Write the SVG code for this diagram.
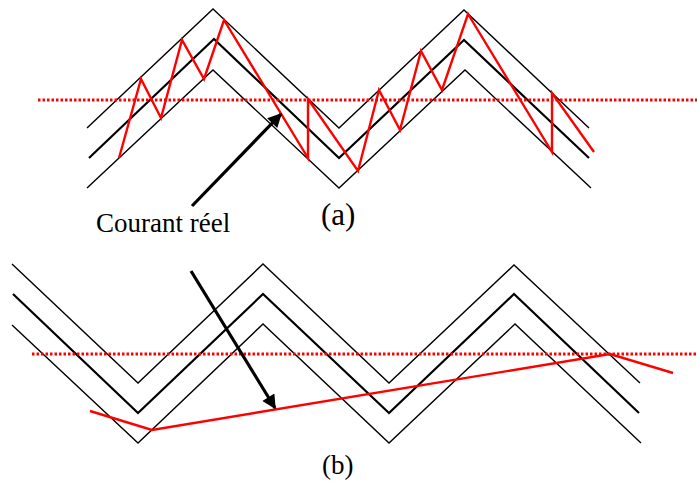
<svg xmlns="http://www.w3.org/2000/svg" width="697" height="482" viewBox="0 0 697 482">
<defs>
<style>
.thin{fill:none;stroke:#000;stroke-width:1.4;stroke-linejoin:miter}
.thick{fill:none;stroke:#000;stroke-width:2.2;stroke-linejoin:miter}
.red{fill:none;stroke:#ff0000;stroke-width:2.4;stroke-linejoin:miter}
.dot{fill:none;stroke:#ff0000;stroke-width:3;stroke-dasharray:2.5 2}
.arrow{fill:none;stroke:#000;stroke-width:3.2}
.lbl{font-family:"Liberation Serif","Times New Roman",serif;fill:#000}
</style>
<marker id="ah" viewBox="0 0 10 10" refX="9" refY="5" markerWidth="5.6" markerHeight="4.4" markerUnits="strokeWidth" orient="auto">
<path d="M0,0 L10,5 L0,10 z" fill="#000"/>
</marker>
</defs>
<g id="diagram-a">
<g id="a-walls">
<polyline class="thin" points="87,128 213,9 339,128 464,10 589,128"/>
<polyline class="thick" points="89,158 214,39 339,158 464,40 589,158"/>
<polyline class="thin" points="87,188 213,70 339,188 465,70 591,188"/>
</g>
<line id="a-level" class="dot" x1="38" y1="100" x2="697" y2="100"/>
<polyline id="a-current" class="red" points="119,158 141,79 161,118 182,40 204,79 224,20 308,158 308,99 358,171 379,90 400,130 421,51 442,90 468,14 552,152 552,93 594,152"/>
</g>
<g id="diagram-b">
<g id="b-walls">
<polyline class="thin" points="12,264 138,383 263,264 389,383 514,265 640,383"/>
<polyline class="thick" points="13,294 138,413 263,294 389,413 514,294 639,413"/>
<polyline class="thin" points="12,325 138,443 263,324 389,443 515,324 641,443"/>
</g>
<line id="b-level" class="dot" x1="32" y1="354" x2="697" y2="354"/>
<polyline id="b-current" class="red" points="90,411 152,430 610,354 673,373"/>
</g>
<g id="connectors">
<line class="arrow" x1="192" y1="206" x2="281" y2="114" marker-end="url(#ah)"/>
<line class="arrow" x1="191" y1="271" x2="275" y2="408" marker-end="url(#ah)"/>
</g>
<g id="labels">
<text class="lbl" x="96" y="232" font-size="27">Courant réel</text>
<text class="lbl" x="321" y="225" font-size="31">(a)</text>
<text class="lbl" x="322" y="474" font-size="27">(b)</text>
</g>
</svg>
